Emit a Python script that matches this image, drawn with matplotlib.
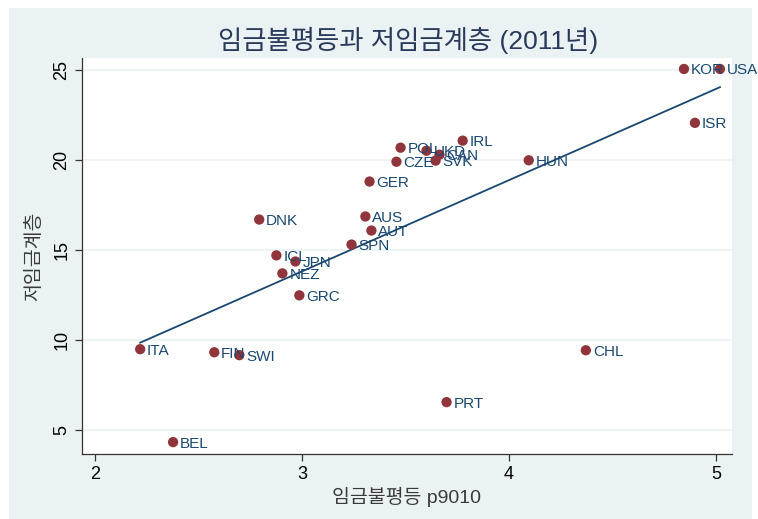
import matplotlib
matplotlib.use("Agg")
import matplotlib.pyplot as plt
from matplotlib.patches import Rectangle
import numpy as np

countries = ["KOR", "USA", "ISR", "IRL", "POL", "UKD", "CAN", "SVK", "CZE", "HUN",
             "GER", "DNK", "AUS", "AUT", "SPN", "ICL", "JPN", "NEZ", "GRC",
             "ITA", "FIN", "SWI", "BEL", "CHL", "PRT"]
p9010 = [4.845, 5.019, 4.898, 3.776, 3.476, 3.601, 3.664, 3.645, 3.456, 4.095,
         3.326, 2.793, 3.306, 3.335, 3.239, 2.876, 2.968, 2.905, 2.987,
         2.218, 2.576, 2.697, 2.377, 4.371, 3.698]
lowpay = [25.05, 25.05, 22.06, 21.07, 20.68, 20.51, 20.29, 19.96, 19.90, 19.98,
          18.80, 16.69, 16.86, 16.08, 15.30, 14.70, 14.36, 13.70, 12.48,
          9.49, 9.32, 9.16, 4.33, 9.43, 6.55]

title = "임금불평등과 저임금계층 (2011년)"
xlabel = "임금불평등 p9010"
ylabel = "저임금계층"
xticks = [2, 3, 4, 5]
yticks = [5, 10, 15, 20, 25]

plt.rcParams['font.family'] = ['Liberation Sans', 'Noto Sans CJK KR', 'DejaVu Sans']
W, H = 758, 519
fig = plt.figure(figsize=(W / 100, H / 100), dpi=100, facecolor="white")
bg = Rectangle((9 / W, 0), (752 - 9) / W, 1 - 8 / H,
               transform=fig.transFigure, facecolor="#EAF2F3",
               edgecolor="none", zorder=-5)
fig.add_artist(bg)

ax = fig.add_axes([82 / W, 1 - 454 / H, (732 - 82) / W, (454 - 58) / H])
ax.set_zorder(1)
ax.set_facecolor("white")

x = np.array(p9010)
y = np.array(lowpay)
ax.scatter(x, y, s=55, color="#90353B", zorder=3, edgecolor="none")
for c, xi, yi in zip(countries, x, y):
    ax.annotate(c, (xi, yi), xytext=(5, -1), textcoords="offset points",
                ha="left", va="center", fontsize=11, color="#1A476F",
                family=['Liberation Sans'], zorder=4, annotation_clip=False)

b, a = np.polyfit(x, y, 1)
xs = np.array([x.min(), x.max()])
ax.plot(xs, a + b * xs, color="#1A476F", lw=1.3, zorder=2)

ax.set_xlim(1.937, 5.077)
ax.set_ylim(3.67, 25.66)
ax.set_xticks(xticks)
ax.set_yticks(yticks)
ax.grid(axis="y", color="#EAF2F3", lw=1.2, zorder=0)
ax.set_axisbelow(True)
for s in ["top", "right"]:
    ax.spines[s].set_visible(False)
for s in ["left", "bottom"]:
    ax.spines[s].set_color("#333333")
    ax.spines[s].set_linewidth(0.9)
ax.tick_params(axis="both", direction="out", length=5, width=0.9, color="#333333",
               labelsize=13, labelcolor="black")
for lab in ax.get_yticklabels():
    lab.set_rotation(90)
    lab.set_va("center")

ax.set_xlabel(xlabel, fontsize=14, color="#3A3A3A", labelpad=3)
ax.set_ylabel(ylabel, fontsize=14, color="#3A3A3A", labelpad=7)
fig.text(408 / W, 1 - 40 / H, title, ha="center", va="center", fontsize=19,
         color="#2A3A5A")

fig.savefig("out.png", dpi=100, facecolor="white")
